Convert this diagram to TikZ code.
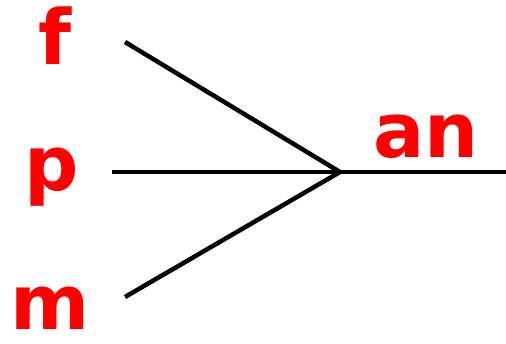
\documentclass[tikz,border=0pt]{standalone}
\usepackage{fontspec}
\setmainfont{DejaVu Sans}
\begin{document}
\begin{tikzpicture}[x=1pt,y=-1pt,
  lbl/.style={text=red,font=\fontsize{76}{76}\selectfont\bfseries,inner sep=0pt,anchor=base},
  ln/.style={line width=4.5pt,black}]
\useasboundingbox (0,0) rectangle (506,344);
\node[lbl] (f) at (55,65) {f};
\node[lbl] (p) at (52,191) {p};
\node[lbl] (m) at (50,330) {m};
\node[lbl] (an) at (426,158) {an};
\coordinate (a) at (125,42);
\coordinate (b) at (112,172);
\coordinate (c) at (125,297);
\coordinate (j) at (340,172);
\coordinate (e) at (506,172);
\draw[ln] (a) -- (j);
\draw[ln] (b) -- (j);
\draw[ln] (c) -- (j);
\draw[ln] (j) -- (e);
\end{tikzpicture}
\end{document}
